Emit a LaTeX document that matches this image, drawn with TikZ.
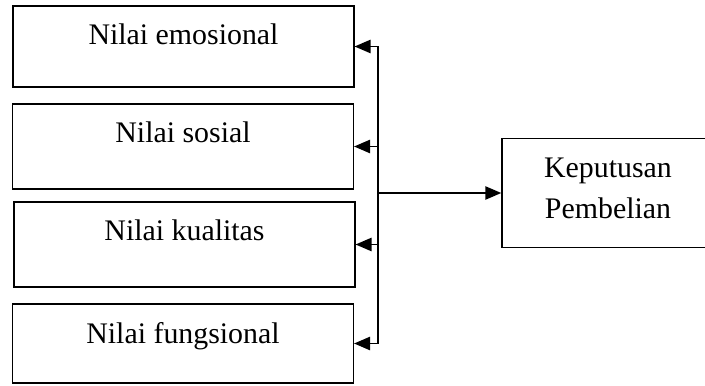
\documentclass[tikz,border=0pt]{standalone}
\usepackage{fontspec}
\setmainfont{Liberation Serif}
\usetikzlibrary{arrows.meta,positioning}

\begin{document}
\begin{tikzpicture}[x=0.75pt,y=0.75pt,
    every node/.style={font=\fontsize{22.4}{31}\selectfont}, >={Triangle[length=12pt,width=10pt]},
    line width=1.1pt,
    nilai/.style={draw,inner sep=0pt,minimum width=255.5pt,text height=29.25pt},
    hasil/.style={draw,align=center,inner sep=0pt,minimum width=159pt,minimum height=81.75pt}
    ]
    \useasboundingbox (0,0) rectangle (705,385);
    \clip (-5,-5) rectangle (705,390);
    % faktor nilai
    \node[nilai,text depth=31.5pt] (emosional) at (183.5,338.5) {Nilai emosional};
    \node[nilai,text depth=34.5pt] (sosial) at (183,238.5) {Nilai sosial};
    \node[nilai,text depth=34.5pt] (kualitas) at (184.5,140.5) {Nilai kualitas};
    \node[nilai,text depth=30pt] (fungsional) at (183,41.5) {Nilai fungsional};
    \node[hasil,text depth=7.5pt] (keputusan) at (608,192) {Keputusan\\Pembelian};
    % garis penghubung
    \coordinate (bus) at (378,192);
    \draw (emosional.east -| bus) -- (fungsional.east -| bus);
    \foreach \n in {emosional,sosial,kualitas,fungsional}
      \draw[->] (\n.east -| bus) -- (\n.east);
    \draw[->] (bus) -- (keputusan);
\end{tikzpicture}
\end{document}
